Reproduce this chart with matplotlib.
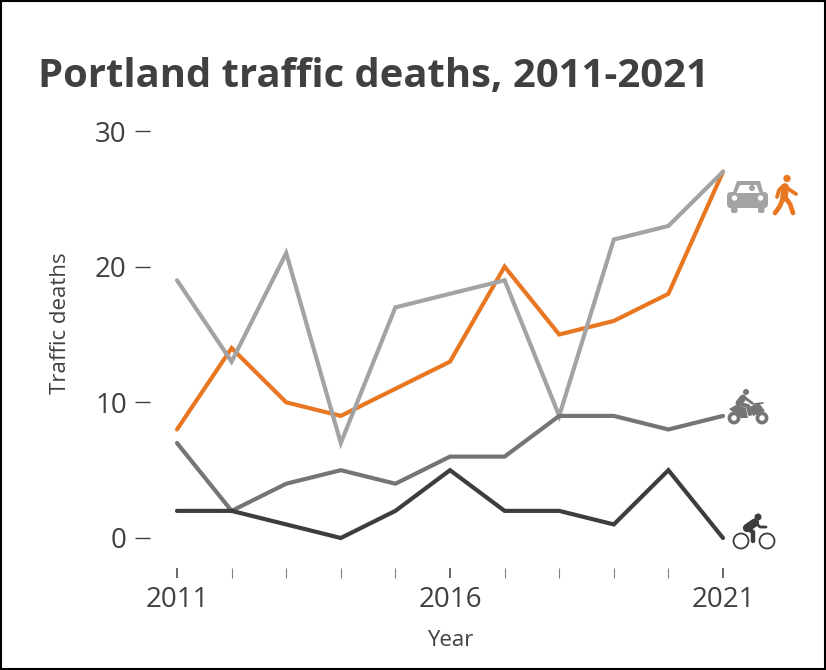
import matplotlib
matplotlib.use("Agg")
import matplotlib.pyplot as plt
from matplotlib.lines import Line2D
from matplotlib.patches import Circle, Polygon, FancyBboxPatch, Rectangle
from matplotlib.transforms import Affine2D

plt.rcParams['font.family'] = ['Open Sans', 'DejaVu Sans']

years = list(range(2011, 2022))
pedestrian = [8, 14, 10, 9, 11, 13, 20, 15, 16, 18, 27]
car = [19, 13, 21, 7, 17, 18, 19, 9, 22, 23, 27]
motorcycle = [7, 2, 4, 5, 4, 6, 6, 9, 9, 8, 9]
bicycle = [2, 2, 1, 0, 2, 5, 2, 2, 1, 5, 0]

x_labels = ["2011", "", "", "", "", "2016", "", "", "", "", "2021"]
y_ticks = [0, 10, 20, 30]

W, H = 826, 670
TEXT = "#404040"
ORANGE = "#E87722"
GRAY = "#A3A3A3"
MID = "#757575"
DARK = "#3D3D3D"

fig = plt.figure(figsize=(W / 100, H / 100), dpi=100)
ax = fig.add_axes([177 / W, 1 - 538 / H, 546 / W, 407 / H])
ax.set_xlim(2011, 2021)
ax.set_ylim(0, 30)

for values, color in [(pedestrian, ORANGE), (car, GRAY), (motorcycle, MID), (bicycle, DARK)]:
    ax.plot(years, values, color=color, lw=3.0, clip_on=False,
            solid_capstyle="round", solid_joinstyle="miter")
for s in ["top", "right"]:
    ax.spines[s].set_visible(False)
ax.spines["left"].set_position(("outward", 19.4))
ax.spines["bottom"].set_position(("outward", 21.6))
ax.spines["left"].set_visible(False)
ax.spines["bottom"].set_visible(False)

ax.set_yticks(y_ticks)
ax.tick_params(axis="y", length=10.8, width=1.0, color=TEXT, labelcolor=TEXT,
               labelsize=20, pad=6)
ax.set_xticks(years)
ax.set_xticklabels(x_labels)
ax.tick_params(axis="x", length=7.2, width=0.8, color="#808080", labelcolor=TEXT,
               labelsize=20, pad=5.5)
for i, t in enumerate(ax.xaxis.get_major_ticks()):
    if x_labels[i]:
        t.tick1line.set_markeredgecolor(TEXT)
        t.tick1line.set_markeredgewidth(1.1)

fig.text(38 / W, 1 - 77 / H, "Portland traffic deaths, 2011-2021", fontsize=28.8,
         fontweight="bold", color=TEXT, va="center", ha="left")
fig.text(61 / W, 1 - 323 / H, "Traffic deaths", fontsize=16, color=TEXT,
         rotation=90, va="center", ha="center")
fig.text(450 / W, 1 - 640 / H, "Year", fontsize=16, color=TEXT, va="center", ha="center")

# icons are placed in image pixels, y going down
px = Affine2D().scale(1, -1).translate(0, H)


def add(p):
    p.set_transform(px)
    fig.add_artist(p)


def disc(x, y, r, color):
    add(Circle((x, y), r, fc=color, ec="none"))


def ring(x, y, r, color, lw):
    add(Circle((x, y), r, fc="white", ec=color, lw=lw))


def poly(points, color):
    add(Polygon(points, closed=True, fc=color, ec="none"))


def stroke(points, color, lw):
    xs, ys = zip(*points)
    add(Line2D(xs, ys, color=color, lw=lw, solid_capstyle="round", solid_joinstyle="round"))


def box(x, y, w, h, r, color):
    add(FancyBboxPatch((x, y), w, h, boxstyle=f"round,pad=0,rounding_size={r}", fc=color, ec="none"))


# car
poly([(732, 195), (737, 181), (760, 181), (764, 195)], GRAY)
box(727, 192, 41, 16, 4, GRAY)
poly([(736.5, 193), (740, 185), (756.5, 185), (759.5, 193)], "white")
disc(752, 188, 3, GRAY)
disc(734.5, 198, 2.7, "white")
disc(760.5, 198, 2.7, "white")
box(731, 205, 6.5, 8, 2, GRAY)
box(758, 205, 6.5, 8, 2, GRAY)

# pedestrian
disc(787, 178.5, 3.7, ORANGE)
stroke([(785, 187), (784, 198)], ORANGE, 5.5)
stroke([(785, 186), (790, 190), (796, 194)], ORANGE, 2.7)
stroke([(783, 186), (779, 190), (777, 197)], ORANGE, 2.7)
stroke([(783, 198), (780, 206), (775, 213)], ORANGE, 3.4)
stroke([(785, 197), (790, 204), (793, 213)], ORANGE, 3.4)

# motorcycle
disc(746, 392, 3, MID)
stroke([(739, 403), (743, 398)], MID, 5)
stroke([(744, 397), (752, 403)], MID, 2)
stroke([(739, 404), (748, 406), (750, 414)], MID, 3)
poly([(729, 409), (736, 405), (746, 408), (748, 418), (741, 418)], MID)
poly([(749, 407), (759, 403), (765, 411), (753, 416)], MID)
stroke([(753, 404), (763, 403)], MID, 1.2)
ring(734, 418, 4.6, MID, 2.6)
ring(762, 418, 4.6, MID, 2.6)

# bicycle
disc(758, 517, 3.5, DARK)
stroke([(747, 528), (755, 522.5)], DARK, 6)
stroke([(756, 523), (760, 527), (766, 527)], DARK, 2)
stroke([(748, 529), (753, 532), (753, 541)], DARK, 3.2)
ring(741, 541, 7.5, DARK, 1.3)
ring(767, 541, 7.5, DARK, 1.3)

# frame round the picture
add(Rectangle((1, 1), W - 2, H - 2, fc="none", ec="black", lw=1.5))

fig.savefig("out.png", dpi=100, facecolor="white")
